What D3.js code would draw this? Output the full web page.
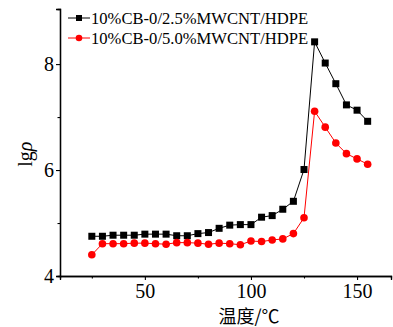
<!DOCTYPE html>
<html>
<head>
<meta charset="utf-8">
<script src="https://cdn.jsdelivr.net/npm/d3@7/dist/d3.min.js"></script>
<style>
  html, body { margin: 0; padding: 0; background: #fff; }
  svg { display: block; }
</style>
</head>
<body>
<div id="chart"></div>
<script>
// temperature (°C)
const temps = [25, 30, 35, 40, 45, 50, 55, 60, 65, 70, 75, 80, 85, 90, 95, 100,
  105, 110, 115, 120, 125, 130, 135, 140, 145, 150, 155];

// lg rho, 10%CB-0/2.5%MWCNT/HDPE
const series25 = [4.75, 4.75, 4.77, 4.77, 4.77, 4.79, 4.79, 4.79, 4.76, 4.76, 4.80, 4.82,
  4.90, 4.96, 4.97, 4.97, 5.11, 5.14, 5.26, 5.41, 6.01, 8.42, 8.02, 7.63, 7.23, 7.13, 6.92];

// lg rho, 10%CB-0/5.0%MWCNT/HDPE
const series50 = [4.40, 4.61, 4.61, 4.61, 4.62, 4.62, 4.61, 4.60, 4.63, 4.63, 4.62, 4.60,
  4.62, 4.61, 4.59, 4.66, 4.65, 4.68, 4.70, 4.80, 5.10, 7.11, 6.81, 6.51, 6.31, 6.21, 6.11];

const seriesNames = ['10%CB-0/2.5%MWCNT/HDPE', '10%CB-0/5.0%MWCNT/HDPE'];
const xTicks = [50, 100, 150];
const xMinorTicks = [25, 75, 125];
const yTicks = [4, 6, 8];
const yMinorTicks = [5, 7];

const width = 393, height = 327;
const margin = { left: 60, right: 2, top: 9, bottom: 51 };
const serif = '"Liberation Serif", "Times New Roman", serif';

const svg = d3.select('#chart')
  .append('svg')
  .attr('width', width)
  .attr('height', height);

const x = d3.scaleLinear().domain([10, 166]).range([margin.left, width - margin.right]);
const y = d3.scaleLinear().domain([4, 9.04]).range([height - margin.bottom, margin.top]);

// Axes
const xAxis = svg.append('g')
  .attr('transform', `translate(0,${height - margin.bottom})`)
  .call(d3.axisBottom(x).tickValues(xTicks).tickSize(4).tickFormat(d3.format('d')));
const xMinor = svg.append('g')
  .attr('transform', `translate(0,${height - margin.bottom})`)
  .call(d3.axisBottom(x).tickValues(xMinorTicks).tickSize(2.5).tickFormat(''));

const yAxis = svg.append('g')
  .attr('transform', `translate(${margin.left},0)`)
  .call(d3.axisLeft(y).tickValues(yTicks).tickSize(4).tickPadding(2).tickFormat(d3.format('d')));
const yMinor = svg.append('g')
  .attr('transform', `translate(${margin.left},0)`)
  .call(d3.axisLeft(y).tickValues(yMinorTicks).tickSize(2.5).tickFormat(''));

[xAxis, xMinor, yAxis, yMinor].forEach(a => {
  a.attr('font-family', serif).attr('font-size', 20);
  a.select('.domain').attr('stroke', '#000').attr('stroke-width', 1.3);
  a.selectAll('.tick line').attr('stroke', '#000').attr('stroke-width', 1.1);
  a.selectAll('.tick text')
    .attr('fill', '#000')
    .style('font-family', serif)
    .style('font-size', '20px');
});
xAxis.selectAll('.tick text').attr('y', 22).attr('dy', 0);

// Axis titles
svg.append('text')
  .attr('x', 249)
  .attr('y', 323)
  .attr('text-anchor', 'middle')
  .style('font-family', '"Noto Sans CJK SC", ' + serif)
  .style('font-size', '18px')
  .attr('fill', '#000')
  .text('温度/℃');

const yTitle = svg.append('text')
  .attr('transform', `translate(32,${y(6.3)}) rotate(-90)`)
  .attr('text-anchor', 'middle')
  .style('font-family', serif)
  .style('font-size', '20px')
  .attr('fill', '#000');
yTitle.append('tspan').text('lg');
yTitle.append('tspan').style('font-style', 'italic').text('ρ');

// Series
const line = d3.line()
  .x(d => x(d[0]))
  .y(d => y(d[1]));

const data25 = temps.map((t, i) => [t, series25[i]]);
const data50 = temps.map((t, i) => [t, series50[i]]);

svg.append('path')
  .datum(data25)
  .attr('fill', 'none')
  .attr('stroke', '#000')
  .attr('stroke-width', 1)
  .attr('d', line);

svg.append('path')
  .datum(data50)
  .attr('fill', 'none')
  .attr('stroke', '#ff0000')
  .attr('stroke-width', 1)
  .attr('d', line);

svg.append('g')
  .selectAll('rect')
  .data(data25)
  .join('rect')
  .attr('x', d => x(d[0]) - 3.5)
  .attr('y', d => y(d[1]) - 3.5)
  .attr('width', 7)
  .attr('height', 7)
  .attr('fill', '#000');

svg.append('g')
  .selectAll('circle')
  .data(data50)
  .join('circle')
  .attr('cx', d => x(d[0]))
  .attr('cy', d => y(d[1]))
  .attr('r', 3.8)
  .attr('fill', '#ff0000');

// Legend
const legend = svg.append('g');
const legendItems = [
  { name: seriesNames[0], color: '#000', shape: 'square', y: 18 },
  { name: seriesNames[1], color: '#ff0000', shape: 'circle', y: 38 }
];
legendItems.forEach(item => {
  legend.append('line')
    .attr('x1', 68).attr('x2', 90)
    .attr('y1', item.y).attr('y2', item.y)
    .attr('stroke', item.color)
    .attr('stroke-width', 1);
  if (item.shape === 'square') {
    legend.append('rect')
      .attr('x', 79 - 3).attr('y', item.y - 3)
      .attr('width', 6).attr('height', 6)
      .attr('fill', item.color);
  } else {
    legend.append('circle')
      .attr('cx', 79).attr('cy', item.y)
      .attr('r', 3.3)
      .attr('fill', item.color);
  }
  legend.append('text')
    .attr('x', 91)
    .attr('y', item.y + 6)
    .style('font-family', serif)
    .style('font-size', '16.6px')
    .attr('fill', '#000')
    .text(item.name);
});
</script>
</body>
</html>
